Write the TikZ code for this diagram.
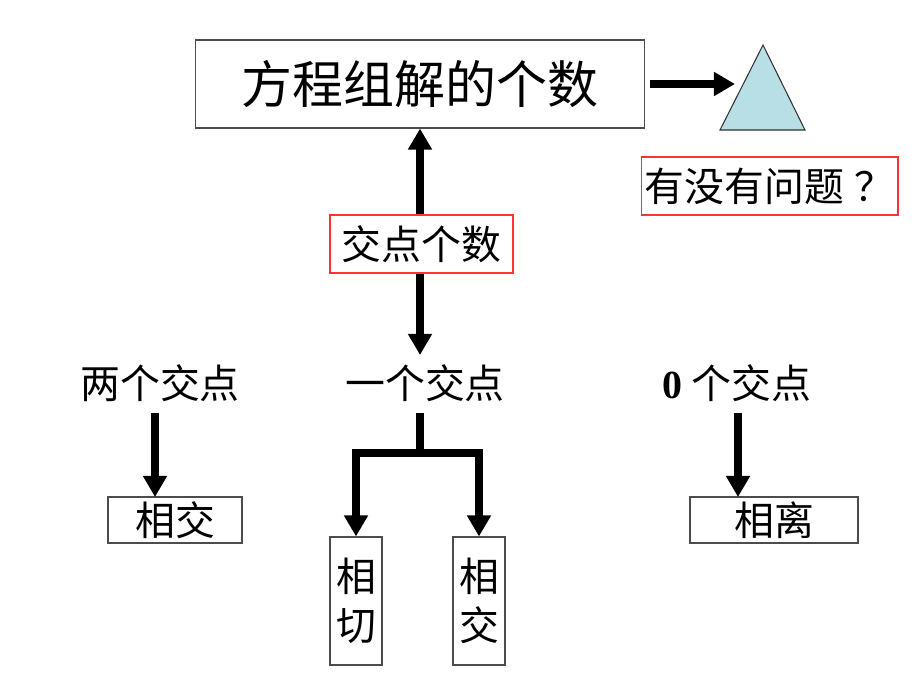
\documentclass[tikz,border=0pt]{standalone}
\usepackage{fontspec}
\setmainfont{Liberation Serif}
\newfontfamily\cjk{Noto Sans CJK SC}
\usetikzlibrary{arrows.meta}
\definecolor{triblue}{RGB}{184,222,230}
\begin{document}
\begin{tikzpicture}
[x=0.02cm, y=-0.02cm,
box/.style={draw=black!70, line width=0.6pt, inner sep=0pt},
redbox/.style={draw=red!80, line width=0.6pt, inner sep=0pt},
fat arrow/.style={line width=4pt, -{Triangle[width=13pt,length=12pt]}},
fat line/.style={line width=4pt}
]
\tikzset{every node/.style={font=\cjk\fontsize{22.7}{24}\selectfont}}
\useasboundingbox (0,0) rectangle (920,690);
% top
\node[box, minimum width=9cm, minimum height=1.76cm,
      font=\cjk\fontsize{29}{30}\selectfont] (title) at (420,84) {方程组解的个数};
\coordinate (tri) at (735,84);
\filldraw[fill=triblue, draw=black!80, line width=0.6pt]
    (763,45) -- (805,130) -- (720,130) -- cycle;
\draw[fat arrow] (title.east) ++(5,0) -- (tri);
\node[redbox, minimum width=5.14cm, minimum height=1.16cm] (ask) at (769.5,186) {有没有问题\hspace{6pt}？};
% middle
\node[redbox, minimum width=3.66cm, minimum height=1.16cm] (count) at (421.5,244) {交点个数};
\draw[fat arrow] (count.north -| title.south) -- (title.south);
% cases
\node (two) at (160,383) {两个交点};
\node (one) at (425,383) {一个交点};
\node (zero) at (737,383) {{\rmfamily\bfseries 0} 个交点};
\draw[fat arrow] (count.south -| title.south) -- (420,355);
%
\node[box, minimum width=2.68cm, minimum height=0.92cm] (cross1) at (175,520) {相交};
\node[box, minimum width=1.04cm, minimum height=2.56cm, align=center] (touch) at (356,601) {相\\[4pt]切};
\node[box, minimum width=1.04cm, minimum height=2.56cm, align=center] (cross2) at (479,601) {相\\[4pt]交};
\node[box, minimum width=3.36cm, minimum height=0.92cm] (apart) at (774,520) {相离};
\draw[fat arrow] (155,413) -- (155,497);
\draw[fat arrow] (738,413) -- (738,497);
\coordinate (split) at (420,453);
\draw[fat line] (420,413) -- (split);
\draw[fat arrow] (split) -| (touch.north);
\draw[fat arrow] (split) -| (cross2.north);
\end{tikzpicture}
\end{document}
